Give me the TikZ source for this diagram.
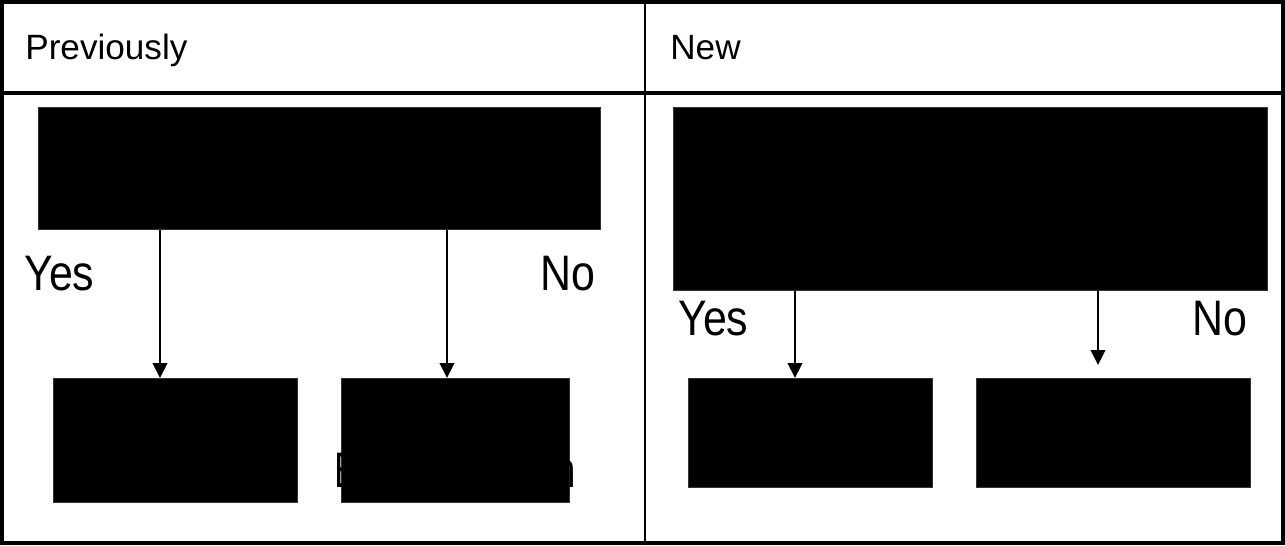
\documentclass[tikz,border=0pt]{standalone}
\usepackage{fontspec}
\setmainfont{Liberation Sans}
\newfontfamily\narrowsans[FakeStretch=0.86]{Liberation Sans}
\newfontfamily\hiddensans[FakeStretch=0.73]{Liberation Sans}
\usetikzlibrary{arrows.meta,positioning}

\tikzset{
  blackbox/.style={draw=black!80,fill=black,inner sep=0pt,anchor=north west},
  flow/.style={line width=1.2pt,-{Triangle[width=0.29cm,length=0.3cm]}},
  headtext/.style={font=\fontsize{20}{24}\selectfont,anchor=base west,inner sep=0pt},
  choice/.style={font=\narrowsans\fontsize{28.4}{34}\selectfont,inner sep=0pt}
}

\begin{document}
\begin{tikzpicture}[x=0.02cm,y=-0.02cm]
\useasboundingbox (0,0) rectangle (1285,545);

% Table
\draw[line width=2.4pt] (2,2) rectangle (1283,543);
\draw[line width=1.8pt] (2,93) -- (1283,93);
\draw[line width=1.2pt] (645,2) -- (645,543);

\node[headtext] (hold) at (25,59) {Previously};
\node[headtext] (hnew) at (670,59) {New};

% Previously
\node[blackbox,minimum width=11.24cm,minimum height=2.44cm] (qold) at (38,107) {};
\node[blackbox,minimum width=4.88cm,minimum height=2.48cm] (yold) at (53,378) {};
\node[blackbox,minimum width=4.56cm,minimum height=2.48cm] (nold) at (341,378) {};
\node[font=\hiddensans\fontsize{28.4}{34}\selectfont,inner sep=0pt,text=black,anchor=base] (told) at (455,487) {Email to admin};

\coordinate (oldyes) at (160,0);
\coordinate (oldno) at (447,0);
\draw[flow] (qold.south -| oldyes) -- (yold.north -| oldyes);
\draw[flow] (qold.south -| oldno) -- (nold.north -| oldno);

\node[choice,anchor=base west] (yesold) at (24,290) {Yes};
\node[choice,anchor=base east] (noold) at (596,290) {No};

% New
\node[blackbox,minimum width=11.88cm,minimum height=3.66cm] (qnew) at (673,107) {};
\node[blackbox,minimum width=4.88cm,minimum height=2.18cm] (ynew) at (688,378) {};
\node[blackbox,minimum width=5.48cm,minimum height=2.18cm] (nnew) at (976,378) {};

\coordinate (newyes) at (795,0);
\coordinate (newno) at (1098,0);
\draw[flow] (qnew.south -| newyes) -- (ynew.north -| newyes);
\draw[flow] (qnew.south -| newno) -- ([yshift=0.26cm]nnew.north -| newno);

\node[choice,anchor=base west] (yesnew) at (678,335) {Yes};
\node[choice,anchor=base east] (nonew) at (1248,335) {No};

\end{tikzpicture}
\end{document}
